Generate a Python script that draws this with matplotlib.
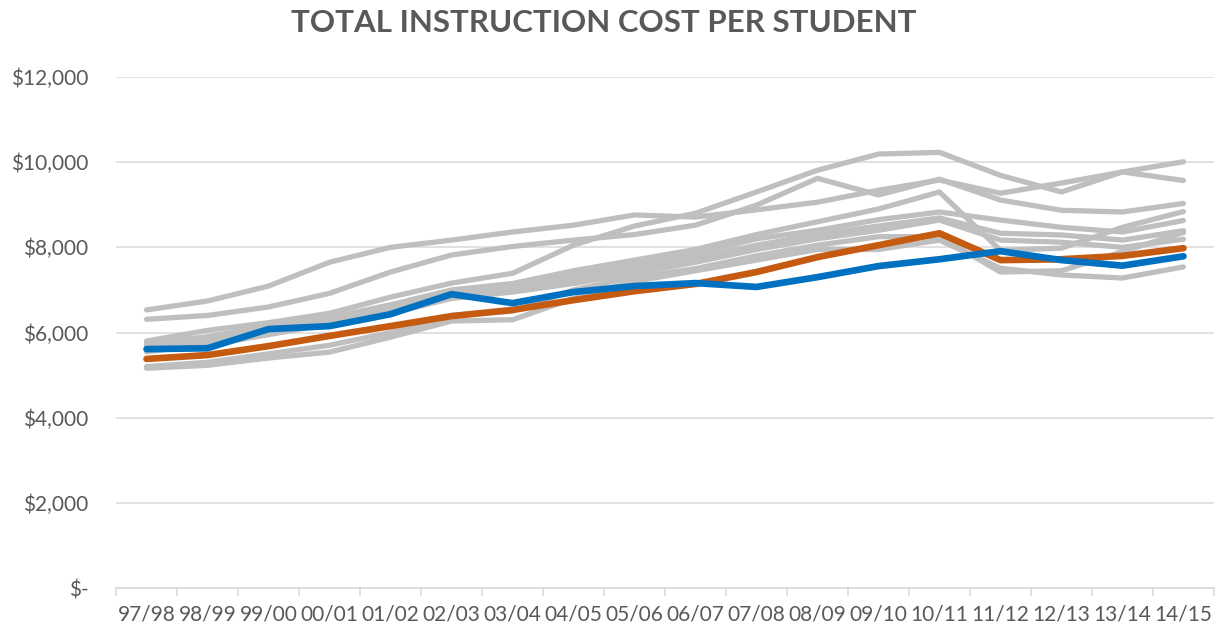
import matplotlib

matplotlib.use("Agg")

import matplotlib.pyplot as plt
import numpy as np
from matplotlib.ticker import FuncFormatter, FixedLocator

YEARS = [
    "97/98", "98/99", "99/00", "00/01", "01/02", "02/03", "03/04", "04/05", "05/06",
    "06/07", "07/08", "08/09", "09/10", "10/11", "11/12", "12/13", "13/14", "14/15",
]

# highlighted series
BLUE_COST = [5610, 5630, 6080, 6150, 6430, 6900, 6690, 6950, 7090,
             7160, 7070, 7300, 7560, 7720, 7910, 7700, 7570, 7790]
ORANGE_COST = [5380, 5470, 5680, 5920, 6150, 6385, 6530, 6760, 6970,
               7140, 7420, 7770, 8050, 8330, 7700, 7720, 7800, 7980]

# comparison series (grey)
GREY_A = [6530, 6740, 7090, 7650, 8000, 8170, 8360, 8520, 8760,
          8710, 8880, 9060, 9340, 9580, 9270, 9510, 9770, 10010]
GREY_B = [6310, 6400, 6600, 6920, 7420, 7820, 8020, 8170, 8300,
          8520, 8990, 9620, 9230, 9600, 9110, 8870, 8830, 9030]
GREY_C = [5800, 6050, 6230, 6450, 6830, 7160, 7390, 8050, 8500,
          8800, 9300, 9810, 10190, 10230, 9690, 9300, 9770, 9570]
GREY_D = [5750, 5900, 6150, 6350, 6650, 7000, 7150, 7450, 7700,
          7950, 8300, 8600, 8900, 9300, 7930, 7980, 8470, 8840]
GREY_E = [5700, 5850, 6100, 6300, 6600, 6950, 7050, 7350, 7600,
          7850, 8200, 8400, 8650, 8830, 8640, 8470, 8360, 8630]
GREY_F = [5650, 5750, 6000, 6250, 6550, 6900, 7000, 7250, 7500,
          7750, 8050, 8300, 8500, 8690, 8330, 8290, 8170, 8390]
GREY_G = [5550, 5700, 5950, 6200, 6450, 6800, 6950, 7150, 7400,
          7650, 7950, 8200, 8400, 8640, 8170, 8120, 8000, 8190]
GREY_H = [5160, 5230, 5400, 5540, 5890, 6270, 6300, 6800, 7200,
          7450, 7700, 7950, 7950, 8170, 7510, 7350, 7280, 7540]
GREY_I = [5200, 5300, 5500, 5700, 6000, 6400, 6500, 7000, 7300,
          7500, 7800, 8050, 8250, 8250, 7420, 7450, 7900, 8350]

GREY_SERIES = [GREY_A, GREY_B, GREY_C, GREY_D, GREY_E, GREY_F, GREY_G, GREY_H, GREY_I]

TEXT_COLOR = "#595959"
GRID_COLOR = "#d9d9d9"

plt.rcParams["font.family"] = ["Lato", "DejaVu Sans"]

fig = plt.figure(figsize=(12.25, 6.31), dpi=100)
ax = fig.add_axes([0.0947, 0.0681, 0.8963, 0.8099])

x = np.arange(len(YEARS))
for series in GREY_SERIES:
    ax.plot(x, series, color="#bfbfbf", linewidth=3.8, solid_capstyle="round", zorder=2)
ax.plot(x, ORANGE_COST, color="#c55a11", linewidth=4.8, solid_capstyle="round", zorder=3)
ax.plot(x, BLUE_COST, color="#0070c0", linewidth=4.8, solid_capstyle="round", zorder=4)

ax.set_xlim(-0.5, len(YEARS) - 0.5)
ax.set_ylim(0, 12000)
ax.set_yticks(np.arange(0, 12001, 2000))
ax.yaxis.set_major_formatter(FuncFormatter(lambda v, _: "$-" if v == 0 else f"${v:,.0f}"))
ax.grid(True, axis="y", color=GRID_COLOR, linewidth=1.1, zorder=0)
ax.set_axisbelow(True)

ax.set_xticks(x)
ax.set_xticklabels(YEARS)
ax.xaxis.set_minor_locator(FixedLocator(np.arange(-0.5, len(YEARS), 1.0)))
ax.tick_params(axis="x", which="major", length=0, pad=12, labelsize=15, colors=TEXT_COLOR)
ax.tick_params(axis="x", which="minor", length=6, width=1.1, color=GRID_COLOR, direction="out")
ax.tick_params(axis="y", length=0, pad=20, labelsize=15, colors=TEXT_COLOR)

for side in ["top", "right", "left"]:
    ax.spines[side].set_visible(False)
ax.spines["bottom"].set_color(GRID_COLOR)
ax.spines["bottom"].set_linewidth(1.1)

fig.text(0.493, 0.963, "TOTAL INSTRUCTION COST PER STUDENT", ha="center", va="center",
         fontsize=22.5, fontweight="bold", color=TEXT_COLOR)

fig.savefig("out.png", dpi=100)
plt.close(fig)
